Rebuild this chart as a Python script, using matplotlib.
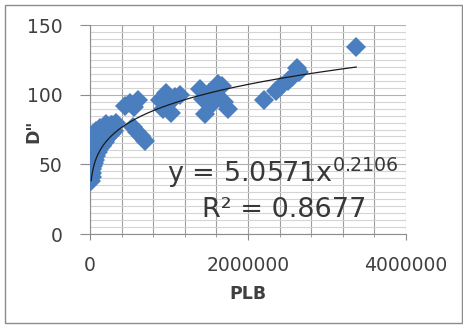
import numpy as np
import matplotlib
matplotlib.use("Agg")
import matplotlib.pyplot as plt
from matplotlib.patches import Rectangle
from matplotlib.ticker import MultipleLocator

plt.rcParams['font.family'] = ['DejaVu Sans']

# PLB против D''
plb = [15000, 18000, 22000, 25000, 30000, 35000, 40000, 45000, 50000, 60000,
       65000, 70000, 80000, 90000, 100000, 110000, 120000, 140000, 150000, 170000,
       190000, 200000, 220000, 240000, 260000, 280000, 300000, 330000,
       40000, 70000, 130000, 200000, 260000,
       440000, 500000, 560000, 610000,
       540000, 590000, 640000, 690000,
       880000, 920000, 960000, 1000000, 1030000, 1080000, 1140000,
       1390000, 1430000, 1460000, 1500000, 1540000, 1580000, 1620000, 1670000,
       1700000, 1750000,
       2200000, 2350000, 2420000, 2500000, 2560000, 2620000, 2650000,
       3370000]
d2 = [38, 43, 41, 47, 44, 52, 49, 55, 51, 57,
      53, 60, 56, 62, 59, 65, 61, 67, 63, 70,
      66, 73, 69, 76, 72, 78, 74, 80,
      72, 74, 76, 79, 78,
      92, 94, 91, 96,
      77, 73, 70, 67,
      96, 90, 101, 94, 87, 98, 100,
      104, 97, 86, 101, 93, 98, 108, 106,
      95, 90,
      96, 103, 106, 110, 113, 119, 116,
      134]

# степенной тренд
a, b = 5.0571, 0.2106
r2 = 0.8677

fig = plt.figure(figsize=(4.64, 3.25), dpi=100)
ax = fig.add_axes([0.194, 0.28, 0.681, 0.643])

ax.plot(plb, d2, 'D', color='#4A7EBF', markersize=10.5, markeredgewidth=0, zorder=3)

xt = np.linspace(min(plb), max(plb), 400)
ax.plot(xt, a * xt**b, color='#1a1a1a', lw=0.9, zorder=4)

ax.set_xlim(0, 4000000)
ax.set_ylim(0, 150)
ax.xaxis.set_major_locator(MultipleLocator(2000000))
ax.xaxis.set_minor_locator(MultipleLocator(400000))
ax.yaxis.set_major_locator(MultipleLocator(50))
ax.yaxis.set_minor_locator(MultipleLocator(5))
ax.ticklabel_format(style='plain', axis='x')

ax.grid(which='minor', axis='y', color='#d4d4d4', lw=0.8)
ax.grid(which='major', axis='y', color='#b0b0b0', lw=0.8)
ax.grid(which='both', axis='x', color='#9e9e9e', lw=0.8)
ax.set_axisbelow(True)

for s in ['top', 'right']:
    ax.spines[s].set_visible(False)
ax.spines['left'].set_color('#8c8c8c')
ax.spines['bottom'].set_color('#8c8c8c')

ax.tick_params(axis='y', which='major', length=7, color='#8c8c8c', pad=13,
               labelsize=13.5, labelcolor='#404040')
ax.tick_params(axis='y', which='minor', length=0)
ax.tick_params(axis='x', which='major', length=4, color='#8c8c8c', pad=12,
               labelsize=13.5, labelcolor='#404040')
ax.tick_params(axis='x', which='minor', length=2, color='#8c8c8c')

ax.set_xlabel('PLB', fontsize=12.5, fontweight='bold', color='#404040', labelpad=7)
ax.set_ylabel('D"', fontsize=12.5, fontweight='bold', color='#404040')
ax.yaxis.set_label_coords(-0.15, 0.49)

ax.text(970000, 37.1, r'y = 5.0571x$^{0.2106}$', fontsize=19.5, color='#383838',
        va='baseline', zorder=5)
ax.text(1420000, 12.1, 'R² = 0.8677', fontsize=19.5, color='#383838',
        va='baseline', zorder=5)

fig.patches.append(Rectangle((5 / 464, 2 / 325), 457 / 464, 318 / 325,
                             transform=fig.transFigure, fill=False,
                             edgecolor='#8c8c8c', lw=1))

fig.savefig('out.png', dpi=100)
